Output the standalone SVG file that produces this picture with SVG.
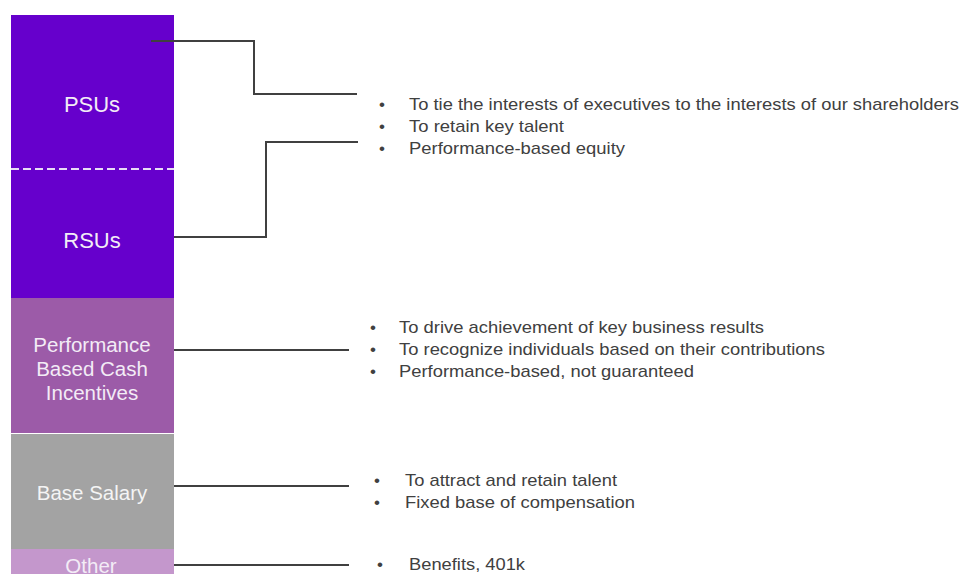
<svg xmlns="http://www.w3.org/2000/svg" width="961" height="574" viewBox="0 0 961 574">
<style>
.lbl{font-family:"Liberation Sans",Arial,sans-serif;font-size:20.5px;fill:#f3ecf6;text-anchor:middle}
.big{font-size:22px}
.txt{font-family:"Liberation Sans",Arial,sans-serif;font-size:17px;fill:#404040}
.conn{fill:none;stroke:#404040;stroke-width:2}
</style>
<rect width="961" height="574" fill="#ffffff"/>
<g id="psus">
<rect x="11" y="15" width="163" height="154" fill="#6600cc"/>
<text class="lbl big" x="92" y="112">PSUs</text>
</g>
<g id="rsus">
<rect x="11" y="169" width="163" height="129" fill="#6600cc"/>
<text class="lbl big" x="92" y="248">RSUs</text>
</g>
<line x1="11" y1="169" x2="174" y2="169" stroke="#e8dcf5" stroke-width="2" stroke-dasharray="8,4"/>
<g id="cash">
<rect x="11" y="298" width="163" height="135" fill="#9c5ba8"/>
<text class="lbl" x="92" y="352">Performance</text>
<text class="lbl" x="92" y="376">Based Cash</text>
<text class="lbl" x="92" y="400">Incentives</text>
</g>
<g id="salary">
<rect x="11" y="434" width="163" height="115" fill="#a3a3a3"/>
<text class="lbl" x="92" y="500" style="fill:#f4f4f4">Base Salary</text>
</g>
<g id="other">
<rect x="11" y="549" width="163" height="25" fill="#c497cc"/>
<text class="lbl" x="91" y="573">Other</text>
</g>
<g id="connectors">
<polyline class="conn" points="151,41 254,41 254,94 357,94"/>
<polyline class="conn" points="174,237 266,237 266,142 358,142"/>
<line class="conn" x1="174" y1="350" x2="349" y2="350"/>
<line class="conn" x1="174" y1="486" x2="349" y2="486"/>
<line class="conn" x1="174" y1="565" x2="349" y2="565"/>
</g>
<g id="equity-notes">
<text class="txt" x="379" y="110">•</text><text class="txt" x="409" y="110" textLength="550" lengthAdjust="spacingAndGlyphs">To tie the interests of executives to the interests of our shareholders</text>
<text class="txt" x="379" y="132">•</text><text class="txt" x="409" y="132" textLength="155" lengthAdjust="spacingAndGlyphs">To retain key talent</text>
<text class="txt" x="379" y="154">•</text><text class="txt" x="409" y="154" textLength="216" lengthAdjust="spacingAndGlyphs">Performance-based equity</text>
</g>
<g id="cash-notes">
<text class="txt" x="370" y="333">•</text><text class="txt" x="399" y="333" textLength="365" lengthAdjust="spacingAndGlyphs">To drive achievement of key business results</text>
<text class="txt" x="370" y="355">•</text><text class="txt" x="399" y="355" textLength="426" lengthAdjust="spacingAndGlyphs">To recognize individuals based on their contributions</text>
<text class="txt" x="370" y="377">•</text><text class="txt" x="399" y="377" textLength="295" lengthAdjust="spacingAndGlyphs">Performance-based, not guaranteed</text>
</g>
<g id="salary-notes">
<text class="txt" x="374" y="486">•</text><text class="txt" x="405" y="486" textLength="212" lengthAdjust="spacingAndGlyphs">To attract and retain talent</text>
<text class="txt" x="374" y="508">•</text><text class="txt" x="405" y="508" textLength="230" lengthAdjust="spacingAndGlyphs">Fixed base of compensation</text>
</g>
<g id="other-notes">
<text class="txt" x="377" y="570">•</text><text class="txt" x="409" y="570" textLength="116" lengthAdjust="spacingAndGlyphs">Benefits, 401k</text>
</g>
</svg>
